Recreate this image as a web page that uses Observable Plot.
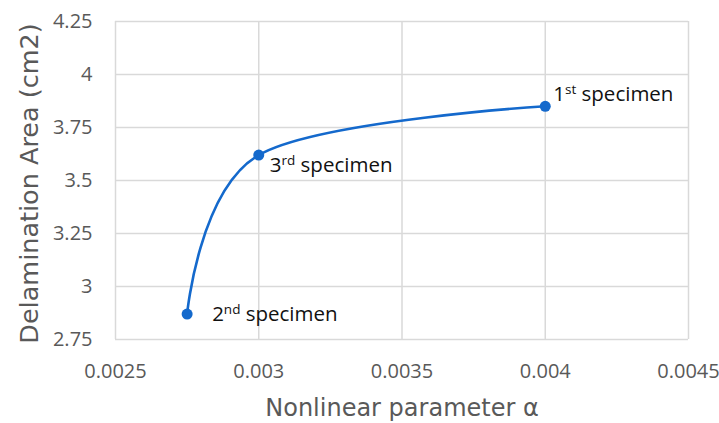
<!DOCTYPE html>
<html>
<head>
<meta charset="utf-8">
<script src="https://cdn.jsdelivr.net/npm/d3@7"></script>
<script src="https://cdn.jsdelivr.net/npm/@observablehq/plot@0.6"></script>
<style>
  html, body { margin: 0; padding: 0; background: #fff; }
</style>
</head>
<body>
<div id="chart"></div>
<script>
// Data
const alpha = [0.00275, 0.003, 0.004];
const area = [2.87, 3.62, 3.85];
const ordNum = ["2", "3", "1"];
const ordSuffix = ["nd", "rd", "st"];
const labelWord = "specimen";
const xTicks = [0.0025, 0.003, 0.0035, 0.004, 0.0045];
const yTicks = [2.75, 3, 3.25, 3.5, 3.75, 4, 4.25];
const xTitle = "Nonlinear parameter α";
const yTitle = "Delamination Area (cm2)";
const labelDx = [25, 11, 8];
const labelDy = [0, 10, -12];

const pts = alpha.map((a, i) => ({alpha: a, area: area[i], i}));
const fmt = d3.format("~g");

const plot = Plot.plot({
  width: 719,
  height: 423,
  marginLeft: 115,
  marginRight: 31,
  marginTop: 21,
  marginBottom: 84,
  style: {fontFamily: "'Open Sans', sans-serif", background: "#fff"},
  x: {domain: [0.0025, 0.0045], ticks: xTicks, tickFormat: fmt},
  y: {domain: [2.75, 4.25], ticks: yTicks, tickFormat: fmt},
  marks: [
    Plot.gridX(xTicks, {stroke: "#d9d9d9", strokeOpacity: 1, strokeWidth: 1.5}),
    Plot.gridY(yTicks, {stroke: "#d9d9d9", strokeOpacity: 1, strokeWidth: 1.5}),
    Plot.axisX(xTicks, {tickSize: 0, tickPadding: 24, fontSize: 20, fill: "#595959", tickFormat: fmt, label: null}),
    Plot.axisY(yTicks, {tickSize: 0, tickPadding: 23, fontSize: 20, fill: "#595959", tickFormat: fmt, label: null}),
    Plot.text([xTitle], {frameAnchor: "bottom", dy: 76, fontSize: 24, fontFamily: "'DejaVu Sans', sans-serif", fill: "#595959"}),
    Plot.text([yTitle], {frameAnchor: "left", textAnchor: "middle", dx: -86, dy: 3, rotate: -90, fontSize: 25.5, fontFamily: "'DejaVu Sans', sans-serif", fill: "#595959"}),
    Plot.line(pts, {x: "alpha", y: "area", curve: "cardinal", tension: 0, stroke: "#1469cc", strokeWidth: 2.6}),
    Plot.dot(pts, {x: "alpha", y: "area", r: 5.5, fill: "#1469cc", stroke: "none"}),
    Plot.text(pts, {
      x: "alpha", y: "area",
      text: d => `${ordNum[d.i]}${ordSuffix[d.i]} ${labelWord}`,
      textAnchor: "start", fontSize: 20.5, fill: "#111"
    })
  ]
});

document.getElementById("chart").appendChild(plot);

// Rebuild specimen labels with superscript ordinals as real tspans
const ns = "http://www.w3.org/2000/svg";
plot.querySelectorAll("text").forEach(t => {
  const s = t.textContent;
  const idx = pts.findIndex(p => s === `${ordNum[p.i]}${ordSuffix[p.i]} ${labelWord}`);
  if (idx < 0) return;
  while (t.firstChild) t.removeChild(t.firstChild);
  const a = document.createElementNS(ns, "tspan");
  a.textContent = ordNum[idx];
  const b = document.createElementNS(ns, "tspan");
  b.textContent = ordSuffix[idx];
  b.setAttribute("font-size", "13.5");
  b.setAttribute("dy", "-7");
  const c = document.createElementNS(ns, "tspan");
  c.textContent = " " + labelWord;
  c.setAttribute("dy", "7");
  t.appendChild(a); t.appendChild(b); t.appendChild(c);
  const tr = t.getAttribute("transform") || "";
  t.setAttribute("transform", tr + ` translate(${labelDx[idx]},${labelDy[idx]})`);
});
</script>
</body>
</html>
